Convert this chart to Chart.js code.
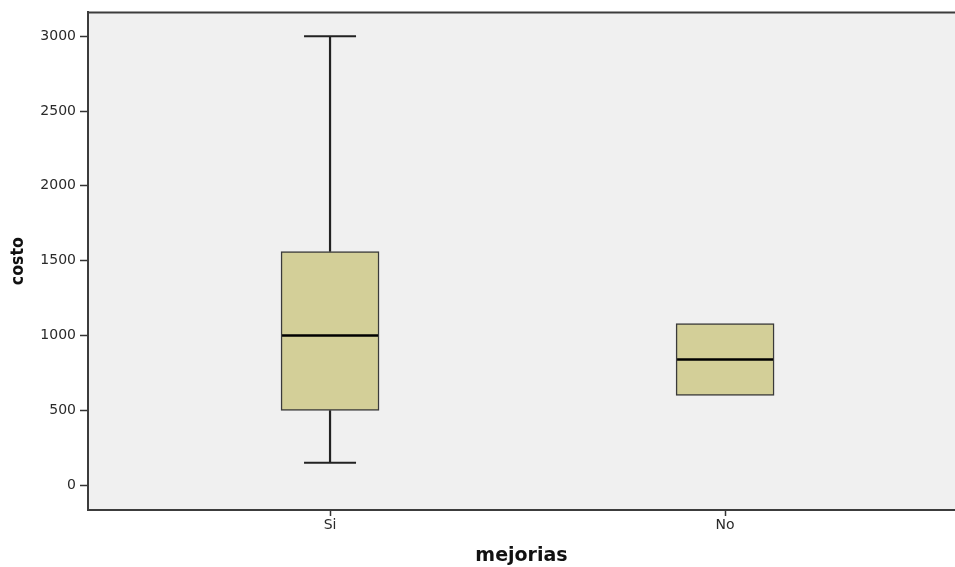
<!DOCTYPE html>
<html>
<head>
<meta charset="utf-8">
<script src="https://cdn.jsdelivr.net/npm/chart.js@4.4.1/dist/chart.umd.min.js"></script>
<style>
  html, body { margin: 0; padding: 0; background: #ffffff; }
  #wrap { width: 955px; height: 567px; position: relative; }
</style>
</head>
<body>
<div id="wrap"><canvas id="c" width="955" height="567"></canvas></div>
<script>
// ---- data ----
const categories = ['Si', 'No'];
const mins    = [150, 600];
const q1s     = [500, 600];
const medians = [1000, 840];
const q3s     = [1560, 1080];
const maxs    = [3000, 1080];
const yTicks  = [0, 500, 1000, 1500, 2000, 2500, 3000];
const xTitle = 'mejorias';
const yTitle = 'costo';

// ---- build datasets from the arrays ----
const boxData = categories.map((c, i) => ({ x: i, y: [q1s[i], q3s[i]] }));
const whiskerData = [];
const capData = [];
categories.forEach((c, i) => {
  if (mins[i] < q1s[i]) {
    whiskerData.push({ x: i, y: mins[i] }, { x: i, y: q1s[i] }, { x: i, y: null });
    capData.push({ x: i, y: mins[i] });
  }
  if (maxs[i] > q3s[i]) {
    whiskerData.push({ x: i, y: q3s[i] }, { x: i, y: maxs[i] }, { x: i, y: null });
    capData.push({ x: i, y: maxs[i] });
  }
});
const medianData = categories.map((c, i) => ({ x: i, y: medians[i] }));

const frame = {
  id: 'frame',
  beforeDraw(chart) {
    const { ctx, chartArea: a } = chart;
    ctx.save();
    ctx.fillStyle = '#f0f0f0';
    ctx.fillRect(a.left, a.top, a.right - a.left, a.bottom - a.top);
    ctx.restore();
  },
  afterDatasetsDraw(chart) {
    const { ctx, chartArea: a } = chart;
    ctx.save();
    ctx.strokeStyle = '#3c3c3c';
    ctx.lineWidth = 2;
    ctx.beginPath();
    ctx.moveTo(a.left - 1, a.top);
    ctx.lineTo(a.right + 2, a.top);
    ctx.stroke();
    ctx.restore();
  }
};

const tickFont = { family: 'DejaVu Sans', size: 14 };
const xTitleFont = { family: 'DejaVu Sans', size: 19, weight: 'bold' };
const yTitleFont = { family: "'Liberation Sans Narrow', 'DejaVu Sans Condensed', 'DejaVu Sans'", size: 17.5, weight: 'bold' };

new Chart(document.getElementById('c'), {
  type: 'bar',
  data: {
    datasets: [
      {
        type: 'bar',
        data: boxData,
        backgroundColor: '#d3cf98',
        borderColor: '#3a3a3a',
        borderWidth: 1.5,
        borderSkipped: false,
        barThickness: 98,
        order: 3
      },
      {
        type: 'line',
        data: whiskerData,
        borderColor: '#222222',
        borderWidth: 2.2,
        pointRadius: 0,
        spanGaps: false,
        fill: false,
        order: 4
      },
      {
        type: 'scatter',
        data: capData,
        pointStyle: 'line',
        pointRadius: 26,
        borderColor: '#222222',
        borderWidth: 2,
        order: 2
      },
      {
        type: 'scatter',
        data: medianData,
        pointStyle: 'line',
        pointRadius: 48,
        borderColor: '#000000',
        borderWidth: 2.6,
        order: 1
      }
    ]
  },
  options: {
    responsive: false,
    animation: false,
    layout: { autoPadding: false, padding: { left: 0, top: 9, right: 0, bottom: 0 } },
    plugins: { legend: { display: false }, tooltip: { enabled: false } },
    scales: {
      x: {
        type: 'linear',
        min: -0.6127,
        max: 1.582,
        offset: false,
        afterFit(s) { s.height = 57; },
        afterBuildTicks(s) { s.ticks = categories.map((c, i) => ({ value: i })); },
        ticks: {
          callback: (v) => categories[v],
          font: tickFont,
          color: '#2a2a2a',
          padding: 1,
          maxRotation: 0,
          autoSkip: false
        },
        grid: {
          offset: false,
          drawOnChartArea: false,
          drawTicks: true,
          tickLength: 6,
          tickColor: '#333333',
          tickWidth: 1.5
        },
        border: { display: true, color: '#3c3c3c', width: 2 },
        title: {
          display: true,
          text: xTitle,
          font: xTitleFont,
          color: '#111111',
          padding: { top: 4, bottom: 0 }
        }
      },
      y: {
        type: 'linear',
        min: -166,
        max: 3159,
        afterFit(s) { s.width = 88; },
        afterBuildTicks(s) { s.ticks = yTicks.map(v => ({ value: v })); },
        ticks: {
          callback: (v) => String(v),
          font: tickFont,
          color: '#2a2a2a',
          padding: 4,
          includeBounds: false
        },
        grid: {
          offset: false,
          drawOnChartArea: false,
          drawTicks: true,
          tickLength: 8,
          tickColor: '#333333',
          tickWidth: 1.5
        },
        border: { display: true, color: '#3c3c3c', width: 2 },
        title: {
          display: true,
          text: yTitle,
          font: yTitleFont,
          color: '#111111',
          padding: { top: 8, bottom: 4 }
        }
      }
    }
  },
  plugins: [frame]
});
</script>
</body>
</html>
